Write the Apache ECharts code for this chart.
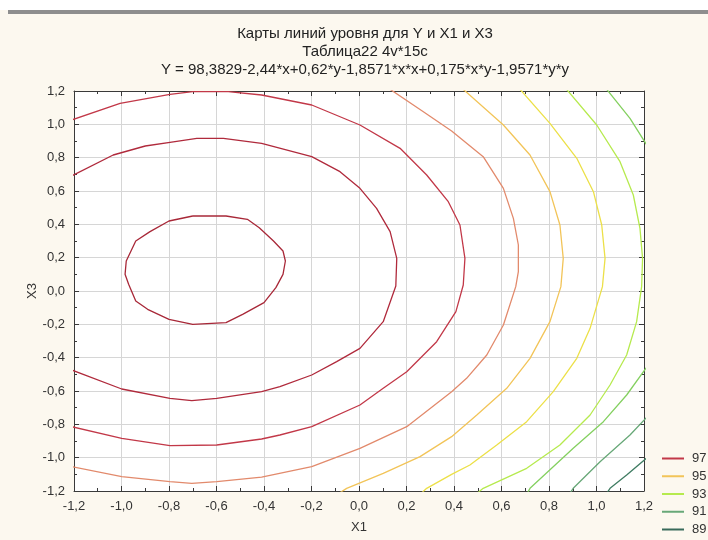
<!DOCTYPE html>
<html><head><meta charset="utf-8">
<script src="https://cdn.jsdelivr.net/npm/echarts@6/dist/echarts.min.js"></script>
<style>html,body{margin:0;padding:0;background:#fcf8ef}#c{width:708px;height:540px}</style>
</head><body><div id="c"></div>
<script>
const titleLines = ['Карты линий уровня для Y и X1 и X3', 'Таблица22 4v*15c', 'Y = 98,3829-2,44*x+0,62*y-1,8571*x*x+0,175*x*y-1,9571*y*y'];
const axisMin = -1.2, axisMax = 1.2, axisStep = 0.2;
const legendLevels = ['97', '95', '93', '91', '89'];

const c99 = [[-0.70,0.45],[-0.56,0.45],[-0.47,0.43],[-0.42,0.38],[-0.36,0.30],[-0.32,0.24],[-0.31,0.18],[-0.32,0.10],[-0.35,0.02],[-0.40,-0.07],[-0.49,-0.14],[-0.56,-0.19],[-0.70,-0.20],[-0.80,-0.17],[-0.89,-0.11],[-0.94,-0.06],[-0.97,0.04],[-0.985,0.10],[-0.98,0.18],[-0.94,0.30],[-0.88,0.356],[-0.80,0.42],[-0.70,0.45]];
const c98 = [[-1.21,0.69],[-1.035,0.816],[-0.90,0.87],[-0.796,0.892],[-0.683,0.916],[-0.571,0.916],[-0.41,0.886],[-0.199,0.806],[-0.08,0.716],[0.004,0.616],[0.074,0.496],[0.131,0.356],[0.159,0.196],[0.155,0.03],[0.102,-0.184],[0.004,-0.344],[-0.094,-0.424],[-0.199,-0.504],[-0.333,-0.574],[-0.41,-0.604],[-0.599,-0.644],[-0.704,-0.658],[-0.796,-0.644],[-0.999,-0.588],[-1.21,-0.474]];
const c97 = [[-1.21,1.026],[-1.006,1.126],[-0.796,1.18],[-0.70,1.196],[-0.55,1.196],[-0.41,1.176],[-0.199,1.116],[0.004,0.996],[0.173,0.856],[0.285,0.696],[0.376,0.536],[0.425,0.396],[0.446,0.196],[0.439,0.036],[0.408,-0.124],[0.327,-0.304],[0.201,-0.484],[0.102,-0.584],[0.004,-0.684],[-0.199,-0.814],[-0.333,-0.864],[-0.41,-0.888],[-0.599,-0.924],[-0.796,-0.928],[-0.999,-0.884],[-1.21,-0.814]];
const c96 = [[0.131,1.21],[0.271,1.076],[0.39,0.96],[0.523,0.806],[0.608,0.616],[0.650,0.436],[0.671,0.276],[0.671,0.116],[0.66,0.026],[0.608,-0.204],[0.538,-0.384],[0.453,-0.524],[0.39,-0.604],[0.201,-0.814],[0.004,-0.944],[-0.199,-1.054],[-0.41,-1.117],[-0.599,-1.144],[-0.704,-1.154],[-0.796,-1.144],[-0.999,-1.114],[-1.21,-1.054]];
const c95 = [[0.439,1.21],[0.608,0.996],[0.720,0.816],[0.804,0.596],[0.846,0.396],[0.860,0.196],[0.85,0.026],[0.804,-0.184],[0.72,-0.404],[0.622,-0.584],[0.496,-0.744],[0.39,-0.874],[0.257,-0.994],[0.102,-1.094],[-0.052,-1.184],[-0.08,-1.21]];
const c94 = [[0.678,1.21],[0.804,1.006],[0.917,0.796],[0.987,0.596],[1.022,0.396],[1.036,0.196],[1.025,0.026],[0.973,-0.224],[0.917,-0.404],[0.818,-0.604],[0.706,-0.784],[0.580,-0.924],[0.467,-1.044],[0.39,-1.10],[0.285,-1.184],[0.265,-1.21]];
const c93 = [[0.874,1.21],[1.001,0.996],[1.099,0.776],[1.155,0.576],[1.183,0.376],[1.194,0.196],[1.19,0.026],[1.169,-0.184],[1.127,-0.384],[1.057,-0.564],[0.973,-0.744],[0.846,-0.924],[0.706,-1.064],[0.523,-1.184],[0.50,-1.21]];
const c92top = [[1.043,1.21],[1.141,1.036],[1.21,0.88]];
const c92bottom = [[1.21,-0.46],[1.127,-0.624],[1.029,-0.784],[0.902,-0.944],[0.72,-1.184],[0.71,-1.21]];
const c91 = [[1.21,-0.76],[1.141,-0.864],[1.015,-1.024],[0.902,-1.184],[0.89,-1.21]];
const c90 = [[1.21,-1.004],[1.127,-1.104],[1.057,-1.184],[1.045,-1.21]];
const c89 = [];

const contours = [
  {name:'99', data:c99}, {name:'98', data:c98}, {name:'97', data:c97}, {name:'96', data:c96},
  {name:'95', data:c95}, {name:'94', data:c94}, {name:'93', data:c93}, {name:'92', data:c92top},
  {name:'92', data:c92bottom}, {name:'91', data:c91}, {name:'90', data:c90}, {name:'89', data:c89}
];
const levelColors = {'99':'#a82838','98':'#b02a3c','97':'#c23848','96':'#e28a6c','95':'#f2c458','94':'#ece048',
  '93':'#b6ea4e','92':'#84d060','91':'#68a878','90':'#3f7c62','89':'#386a5a'};

const fmt = v => v.toFixed(1).replace('.', ',');
const FONT = 'Liberation Sans, Arial, sans-serif';

function baseAxis(extra) {
  return Object.assign({
    type: 'value', min: axisMin, max: axisMax, interval: axisStep,
    axisLine: {show: true, onZero: false, lineStyle: {color: '#3a3a3a', width: 1}},
    axisTick: {show: true, inside: true, length: 5, lineStyle: {color: '#3a3a3a'}},
    minorTick: {show: true, splitNumber: 2, length: 3, lineStyle: {color: '#3a3a3a'}},
    splitLine: {show: false},
    axisLabel: {show: false}
  }, extra);
}

const chart = echarts.init(document.getElementById('c'), null, {renderer: 'canvas'});
chart.setOption({
  backgroundColor: '#fcf8ef',
  animation: false,
  textStyle: {fontFamily: FONT},
  grid: {left: 74, top: 91, width: 570, height: 400, show: true, backgroundColor: '#ffffff', borderWidth: 0},
  xAxis: [
    baseAxis({position: 'bottom', name: 'X1', nameLocation: 'middle', nameGap: 30, nameMoveOverlap: false,
      nameTextStyle: {fontSize: 13, color: '#333', fontFamily: FONT},
      axisLabel: {show: true, formatter: fmt, fontSize: 13, color: '#333', margin: 9, fontFamily: FONT},
      splitLine: {show: true, lineStyle: {color: '#d6d6d6', width: 1}}}),
    baseAxis({position: 'top'})
  ],
  yAxis: [
    baseAxis({position: 'left', name: 'X3', nameLocation: 'middle', nameGap: 35, nameMoveOverlap: false,
      nameTextStyle: {fontSize: 13, color: '#333', fontFamily: FONT},
      axisLabel: {show: true, formatter: fmt, fontSize: 13, color: '#333', margin: 9, fontFamily: FONT},
      splitLine: {show: true, lineStyle: {color: '#d6d6d6', width: 1}}}),
    baseAxis({position: 'right'})
  ],
  legend: {
    orient: 'vertical', left: 662, top: 452, itemWidth: 22, itemHeight: 2, itemGap: 4.75, icon: 'rect',
    data: legendLevels, textStyle: {fontSize: 13, lineHeight: 13, color: '#333', fontFamily: FONT, padding: [0, 0, 0, 3]}, padding: 0
  },
  graphic: [
    {type: 'rect', shape: {x: 0, y: 0, width: 708, height: 10}, style: {fill: '#ffffff'}, silent: true},
    {type: 'rect', shape: {x: 8, y: 10, width: 700, height: 4}, style: {fill: '#8e8e8e'}, silent: true},
    {type: 'text', x: 365, y: 34, style: {text: titleLines[0], align: 'center', verticalAlign: 'middle', font: '15px ' + FONT, fill: '#222'}},
    {type: 'text', x: 365, y: 52, style: {text: titleLines[1], align: 'center', verticalAlign: 'middle', font: '15px ' + FONT, fill: '#222'}},
    {type: 'text', x: 365, y: 69.5, style: {text: titleLines[2], align: 'center', verticalAlign: 'middle', font: '15px ' + FONT, fill: '#222'}}
  ],
  series: contours.map(c => ({
    type: 'line', name: c.name, data: c.data, symbol: 'none', smooth: false, clip: true,
    xAxisIndex: 0, yAxisIndex: 0,
    lineStyle: {color: levelColors[c.name], width: 1.3},
    itemStyle: {color: levelColors[c.name]}
  }))
});
</script></body></html>
